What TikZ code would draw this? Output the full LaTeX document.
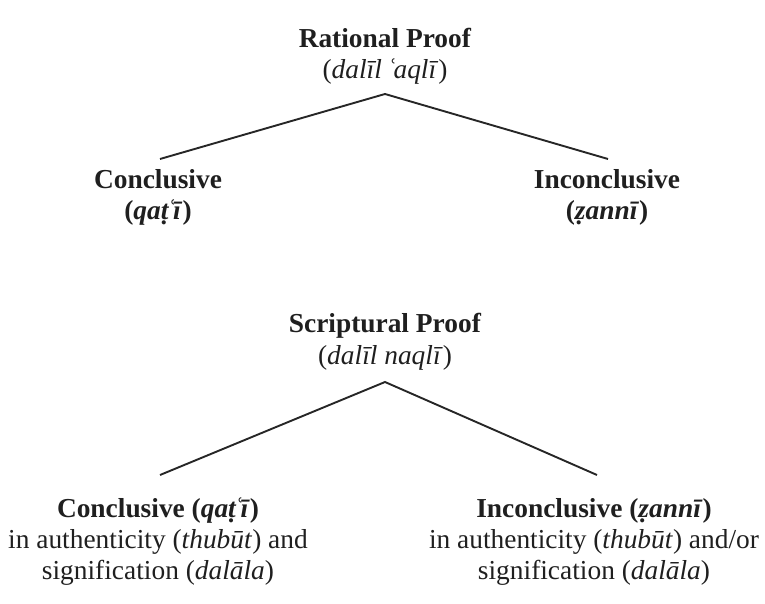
\documentclass[tikz,border=0pt]{standalone}
\usepackage{fontspec}
\setmainfont{Liberation Serif}
\newcommand{\ayn}{\kern-0.06em ʿ\kern-0.1em}

\begin{document}
\begin{tikzpicture}[x=1bp,y=-1bp,
  every node/.style={inner sep=0pt, text=black!88, align=center},
  head/.style={anchor=base, font=\fontsize{27.5}{32}\selectfont},
  leaf/.style={anchor=base, font=\fontsize{27.5}{31}\selectfont},
  branch/.style={line width=1.9bp, black!85}]
\useasboundingbox (0,0) rectangle (765,604);
% rational proof
\node[head] (rat) at (385,79) {\textbf{Rational Proof}\\(\textit{dalīl \ayn aqlī})};
\node[head] (ratC) at (158,220) {\textbf{Conclusive}\\\textbf{(\textit{qaṭ\ayn ī})}};
\node[head] (ratI) at (607,220) {\textbf{Inconclusive}\\\textbf{(\textit{ẓannī})}};
\coordinate (ratTop) at (385,94);
\coordinate (ratL) at (160,159);
\coordinate (ratR) at (608,159);
\draw[branch] (ratL) -- (ratTop) -- (ratR);
% scriptural proof
\node[head] (scr) at (385,364) {\textbf{Scriptural Proof}\\(\textit{dalīl naqlī})};
\node[leaf] (scrC) at (158,579) {\textbf{Conclusive (\textit{qaṭ\ayn ī})}\\in authenticity (\textit{thubūt}) and\\signification (\textit{dalāla})};
\node[leaf] (scrI) at (594,579) {\textbf{Inconclusive (\textit{ẓannī})}\\in authenticity (\textit{thubūt}) and/or\\signification (\textit{dalāla})};
\coordinate (scrTop) at (385,382);
\coordinate (scrL) at (160,475);
\coordinate (scrR) at (597,475);
\draw[branch] (scrL) -- (scrTop) -- (scrR);
\end{tikzpicture}
\end{document}
